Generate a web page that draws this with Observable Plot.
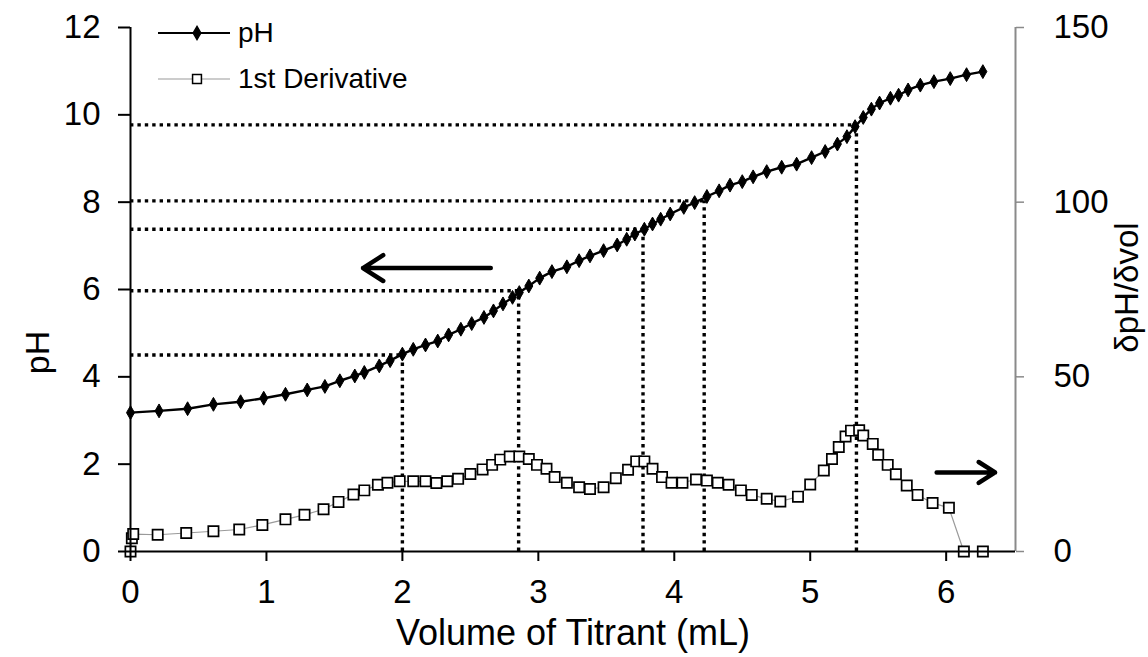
<!DOCTYPE html>
<html><head><meta charset="utf-8">
<script src="https://cdn.jsdelivr.net/npm/d3@7"></script>
<script src="https://cdn.jsdelivr.net/npm/@observablehq/plot@0.6"></script>
<style>
body{margin:0;background:#fff;font-family:"Liberation Sans",Arial,sans-serif;}
#wrap{position:relative;width:1148px;height:657px;}
#legend{position:absolute;left:155px;top:10px;font-size:28px;color:#000;}
.row{display:flex;align-items:center;height:46px;}
.row svg{display:block;}
</style></head><body>
<div id="wrap"><div id="chart"></div><div id="legend"></div></div>
<script>
// pH titration curve (left axis)
const pHVolume = [0, 0.21, 0.42, 0.61, 0.81, 0.98, 1.14, 1.30, 1.43, 1.54, 1.65, 1.72, 1.83, 1.91, 2.00, 2.08, 2.17, 2.26, 2.34, 2.43, 2.51, 2.60, 2.67, 2.74, 2.81, 2.86, 2.93, 3.01, 3.10, 3.21, 3.30, 3.38, 3.48, 3.58, 3.65, 3.71, 3.78, 3.84, 3.90, 3.97, 4.07, 4.15, 4.24, 4.33, 4.41, 4.50, 4.58, 4.68, 4.79, 4.90, 5.01, 5.11, 5.20, 5.27, 5.33, 5.39, 5.45, 5.51, 5.59, 5.65, 5.72, 5.81, 5.91, 6.03, 6.15, 6.27];
const pHValues = [3.18, 3.22, 3.27, 3.37, 3.43, 3.51, 3.60, 3.70, 3.78, 3.91, 4.02, 4.10, 4.25, 4.37, 4.52, 4.63, 4.73, 4.82, 4.96, 5.09, 5.22, 5.36, 5.51, 5.67, 5.82, 5.93, 6.08, 6.26, 6.41, 6.52, 6.66, 6.77, 6.89, 7.02, 7.15, 7.27, 7.38, 7.50, 7.61, 7.73, 7.88, 7.99, 8.13, 8.26, 8.39, 8.47, 8.58, 8.70, 8.80, 8.87, 9.02, 9.16, 9.33, 9.50, 9.73, 9.94, 10.13, 10.27, 10.38, 10.45, 10.57, 10.68, 10.76, 10.83, 10.92, 10.99];
// 1st derivative (right axis)
const derivVolume = [0, 0.01, 0.02, 0.2, 0.41, 0.61, 0.8, 0.97, 1.14, 1.28, 1.42, 1.53, 1.64, 1.72, 1.82, 1.89, 1.98, 2.08, 2.17, 2.25, 2.33, 2.41, 2.5, 2.59, 2.66, 2.72, 2.79, 2.86, 2.93, 2.99, 3.06, 3.12, 3.21, 3.3, 3.38, 3.48, 3.57, 3.66, 3.72, 3.78, 3.84, 3.91, 3.98, 4.06, 4.16, 4.24, 4.32, 4.4, 4.49, 4.57, 4.68, 4.78, 4.91, 5.0, 5.1, 5.16, 5.21, 5.26, 5.3, 5.36, 5.39, 5.46, 5.5, 5.57, 5.63, 5.71, 5.79, 5.9, 6.02, 6.13, 6.27];
const derivValues = [0, 3.8, 5.0, 4.8, 5.3, 5.8, 6.3, 7.6, 9.2, 10.5, 12.1, 14.2, 16.3, 17.5, 19.1, 19.7, 20.1, 20.1, 20.1, 19.6, 20.1, 20.8, 22.2, 23.5, 24.8, 26.3, 27.2, 27.2, 26.5, 24.8, 23.7, 21.3, 19.7, 18.4, 17.9, 18.4, 21.0, 23.4, 25.8, 25.8, 23.7, 21.3, 19.7, 19.7, 20.6, 20.3, 19.7, 19.1, 17.5, 16.2, 15.1, 14.3, 15.7, 19.2, 23.2, 26.5, 29.9, 32.9, 34.6, 34.7, 33.2, 30.8, 27.7, 24.8, 22.1, 18.9, 16.2, 13.9, 12.5, 0, 0];
// equivalence-point guides
const eqVolume = [2.00, 2.855, 3.77, 4.22, 5.34];
const eqPH = [4.50, 5.97, 7.38, 8.03, 9.77];
// axis ticks
const xTicks = [0, 1, 2, 3, 4, 5, 6];
const leftTicks = [0, 2, 4, 6, 8, 10, 12];
const rightTicks = [0, 50, 100, 150];
// annotation arrows
const arrowFrom = [2.65, 5.93];
const arrowTo = [1.71, 6.36];
const arrowPH = [6.49, 1.81];

const xMax = 6.51, leftMax = 12, rightMax = 150;
const k = leftMax / rightMax;
const ph = pHVolume.map((v, i) => ({v, p: pHValues[i]}));
const deriv = derivVolume.map((v, i) => ({v, d: derivValues[i] * k}));
const eqIdx = d3.range(eqVolume.length);
const arIdx = d3.range(arrowFrom.length);
const font = '"Liberation Sans", Arial, sans-serif';
const dotted = {stroke: "#000", strokeWidth: 3.4, strokeDasharray: "3.4 4"};

const chart = Plot.plot({
  width: 1148, height: 657,
  marginLeft: 130, marginRight: 133, marginTop: 27, marginBottom: 106,
  x: {domain: [0, xMax]},
  y: {domain: [0, leftMax]},
  style: {fontFamily: font, fontSize: "32px", color: "#000", background: "#fff", overflow: "visible"},
  marks: [
    Plot.ruleY(eqIdx, {y: i => eqPH[i], x1: 0, x2: i => eqVolume[i], ...dotted}),
    Plot.ruleX(eqIdx, {x: i => eqVolume[i], y1: 0, y2: i => eqPH[i], ...dotted}),
    Plot.line(deriv, {x: "v", y: "d", stroke: "#9a9a9a", strokeWidth: 1.2}),
    Plot.dot(deriv, {x: "v", y: "d", symbol: "square", r: 5.8, fill: "#fff", stroke: "#000", strokeWidth: 1.7}),
    Plot.line(ph, {x: "v", y: "p", stroke: "#000", strokeWidth: 2.4}),
    Plot.dot(ph, {x: "v", y: "p", symbol: "diamond", r: 4.2, fill: "#000", stroke: "#000", strokeWidth: 1}),
    Plot.arrow(arIdx, {x1: i => arrowFrom[i], x2: i => arrowTo[i], y1: i => arrowPH[i], y2: i => arrowPH[i], stroke: "#000", strokeWidth: 4.5, headLength: 8, headAngle: 65}),
    Plot.ruleX([xMax], {stroke: "#8a8a8a", strokeWidth: 2}),
    Plot.ruleX([0], {stroke: "#000", strokeWidth: 2}),
    Plot.ruleY([0], {stroke: "#000", strokeWidth: 2}),
    Plot.axisX({ticks: xTicks, tickFormat: d => String(d), tickSize: 10, tickPadding: 18, fontSize: 33, label: null, strokeWidth: 2}),
    Plot.axisY({ticks: leftTicks, tickFormat: d => String(d), tickSize: 12, tickPadding: 18, fontSize: 33, label: null, strokeWidth: 2}),
    Plot.axisY({anchor: "right", ticks: rightTicks.map(t => t * k), tickFormat: d => String(Math.round(d / k)), tickSize: 8, tickPadding: 30, fontSize: 33, label: null, stroke: "#8a8a8a", fill: "#000", strokeWidth: 1.5}),
    Plot.text(["pH"], {text: d => d, frameAnchor: "left", textAnchor: "middle", lineAnchor: "middle", rotate: -90, dx: -92, dy: 63, fontSize: 34}),
    Plot.text(["Volume of Titrant (mL)"], {text: d => d, frameAnchor: "bottom", textAnchor: "middle", lineAnchor: "middle", dy: 82, fontSize: 36}),
    Plot.text(["δpH/δvol"], {text: d => d, frameAnchor: "right", textAnchor: "middle", lineAnchor: "middle", rotate: -90, dx: 112, dy: -2, fontSize: 33})
  ]
});
document.getElementById("chart").appendChild(chart);

// legend
const legendItems = [
  {label: "pH", line: "#000", lw: 2.2, sym: d3.symbolDiamond, size: Math.PI * 4 * 4, fill: "#000"},
  {label: "1st Derivative", line: "#9a9a9a", lw: 1.2, sym: d3.symbolSquare, size: Math.PI * 5 * 5, fill: "#fff"}
];
const leg = d3.select("#legend");
legendItems.forEach(it => {
  const row = leg.append("div").attr("class", "row");
  const s = row.append("svg").attr("width", 83).attr("height", 40);
  s.append("line").attr("x1", 3).attr("x2", 75).attr("y1", 20).attr("y2", 20).attr("stroke", it.line).attr("stroke-width", it.lw);
  s.append("path").attr("d", d3.symbol(it.sym, it.size)()).attr("transform", "translate(42,20)")
    .attr("fill", it.fill).attr("stroke", "#000").attr("stroke-width", 1.5);
  row.append("span").text(it.label);
});
</script>
</body></html>
